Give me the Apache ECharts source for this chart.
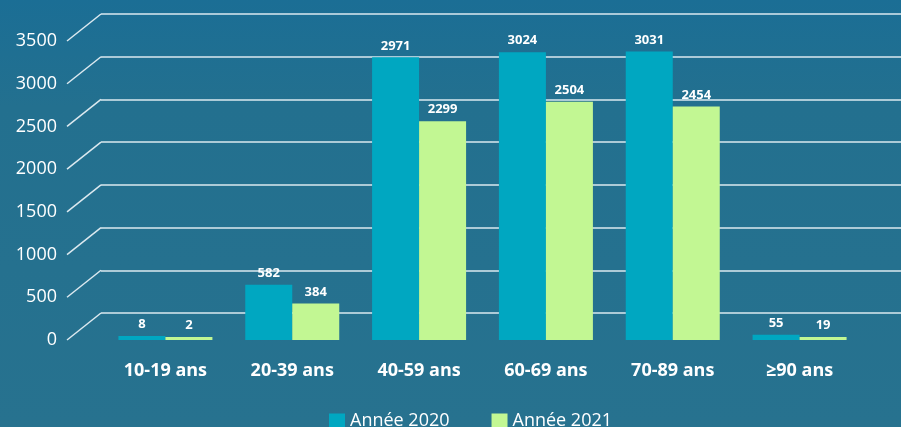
<!DOCTYPE html>
<html>
<head>
<meta charset="utf-8">
<script src="https://cdn.jsdelivr.net/npm/echarts@6/dist/echarts.min.js"></script>
<style>
  html, body { margin: 0; padding: 0; }
  #chart { width: 901px; height: 427px; }
</style>
</head>
<body>
<div id="chart"></div>
<script>
// data
var categories = ["10-19 ans", "20-39 ans", "40-59 ans", "60-69 ans", "70-89 ans", "\u226590 ans"];
var values2020 = [8, 582, 2971, 3024, 3031, 55];
var values2021 = [2, 384, 2299, 2504, 2454, 19];
var seriesNames = ["Ann\u00e9e 2020", "Ann\u00e9e 2021"];
var yTicks = [0, 500, 1000, 1500, 2000, 2500, 3000, 3500];

// 3d look: back wall is shifted right and up
var depthX = 34;
var depthY = 27;
var frontLeft = 67, frontTop = 41, frontBottom = 87;
var lineColor = "rgba(236,243,247,0.92)";
var font = "'Open Sans', Lato, sans-serif";

var chart = echarts.init(document.getElementById("chart"));

var valueLabel = {
    show: true,
    position: "top",
    distance: 5,
    color: "#ffffff",
    fontSize: 13,
    fontWeight: "bold",
    fontFamily: font
};

var option = {
    backgroundColor: {
        type: "linear", x: 0, y: 0, x2: 0, y2: 1,
        colorStops: [
            { offset: 0, color: "#1b6e95" },
            { offset: 0.25, color: "#23708f" },
            { offset: 1, color: "#27728f" }
        ]
    },
    animation: false,
    textStyle: { fontFamily: font },
    grid: [
        // front plane, y labels + diagonals
        { left: frontLeft, top: frontTop, bottom: frontBottom, width: 40 },
        // back wall, grid lines
        { left: frontLeft + depthX, top: frontTop - depthY, bottom: frontBottom + depthY, right: 0 },
        // bars
        { left: 102, right: 38, top: 7, bottom: frontBottom }
    ],
    legend: {
        data: seriesNames,
        top: 407,
        left: 324,
        itemWidth: 16,
        itemHeight: 15,
        itemGap: 42,
        icon: "rect",
        textStyle: { color: "#ffffff", fontSize: 18, fontFamily: font, padding: [0, 0, 0, 0] }
    },
    xAxis: [
        { gridIndex: 0, type: "value", min: 0, max: 1, show: false },
        { gridIndex: 1, type: "value", min: 0, max: 1, show: false },
        {
            gridIndex: 2,
            type: "category",
            data: categories,
            axisLine: { show: false },
            axisTick: { show: false },
            axisLabel: {
                color: "#ffffff",
                fontSize: 18,
                fontWeight: "bold",
                fontFamily: font,
                margin: 22
            }
        }
    ],
    yAxis: [
        {
            gridIndex: 0,
            type: "value",
            min: 0,
            max: 3500,
            interval: 500,
            axisLine: { show: false },
            axisTick: { show: false },
            splitLine: { show: false },
            axisLabel: {
                color: "#ffffff",
                fontSize: 18,
                fontFamily: font,
                margin: 10,
                formatter: function (v) { return String(v); }
            }
        },
        {
            gridIndex: 1,
            type: "value",
            min: 0,
            max: 3500,
            interval: 500,
            axisLine: { show: false },
            axisTick: { show: false },
            axisLabel: { show: false },
            splitLine: { lineStyle: { color: lineColor, width: 1.5 } }
        },
        { gridIndex: 2, type: "value", min: 0, max: 3500, show: false }
    ],
    series: [
        {
            type: "custom",
            xAxisIndex: 0,
            yAxisIndex: 0,
            silent: true,
            data: yTicks,
            renderItem: function (params, api) {
                var p = api.coord([0, api.value(0)]);
                return {
                    type: "line",
                    shape: { x1: p[0], y1: p[1], x2: p[0] + depthX, y2: p[1] - depthY },
                    style: { stroke: lineColor, lineWidth: 1.5 }
                };
            },
            encode: { y: 0 }
        },
        {
            name: seriesNames[0],
            type: "bar",
            xAxisIndex: 2,
            yAxisIndex: 2,
            data: values2020,
            barWidth: 47,
            barGap: "0%",
            barMinHeight: 4,
            itemStyle: { color: "#00a7c1" },
            label: valueLabel
        },
        {
            name: seriesNames[1],
            type: "bar",
            xAxisIndex: 2,
            yAxisIndex: 2,
            data: values2021,
            barWidth: 47,
            barGap: "0%",
            barMinHeight: 3,
            itemStyle: { color: "#c2f793" },
            label: valueLabel
        }
    ]
};

chart.setOption(option);
</script>
</body>
</html>
